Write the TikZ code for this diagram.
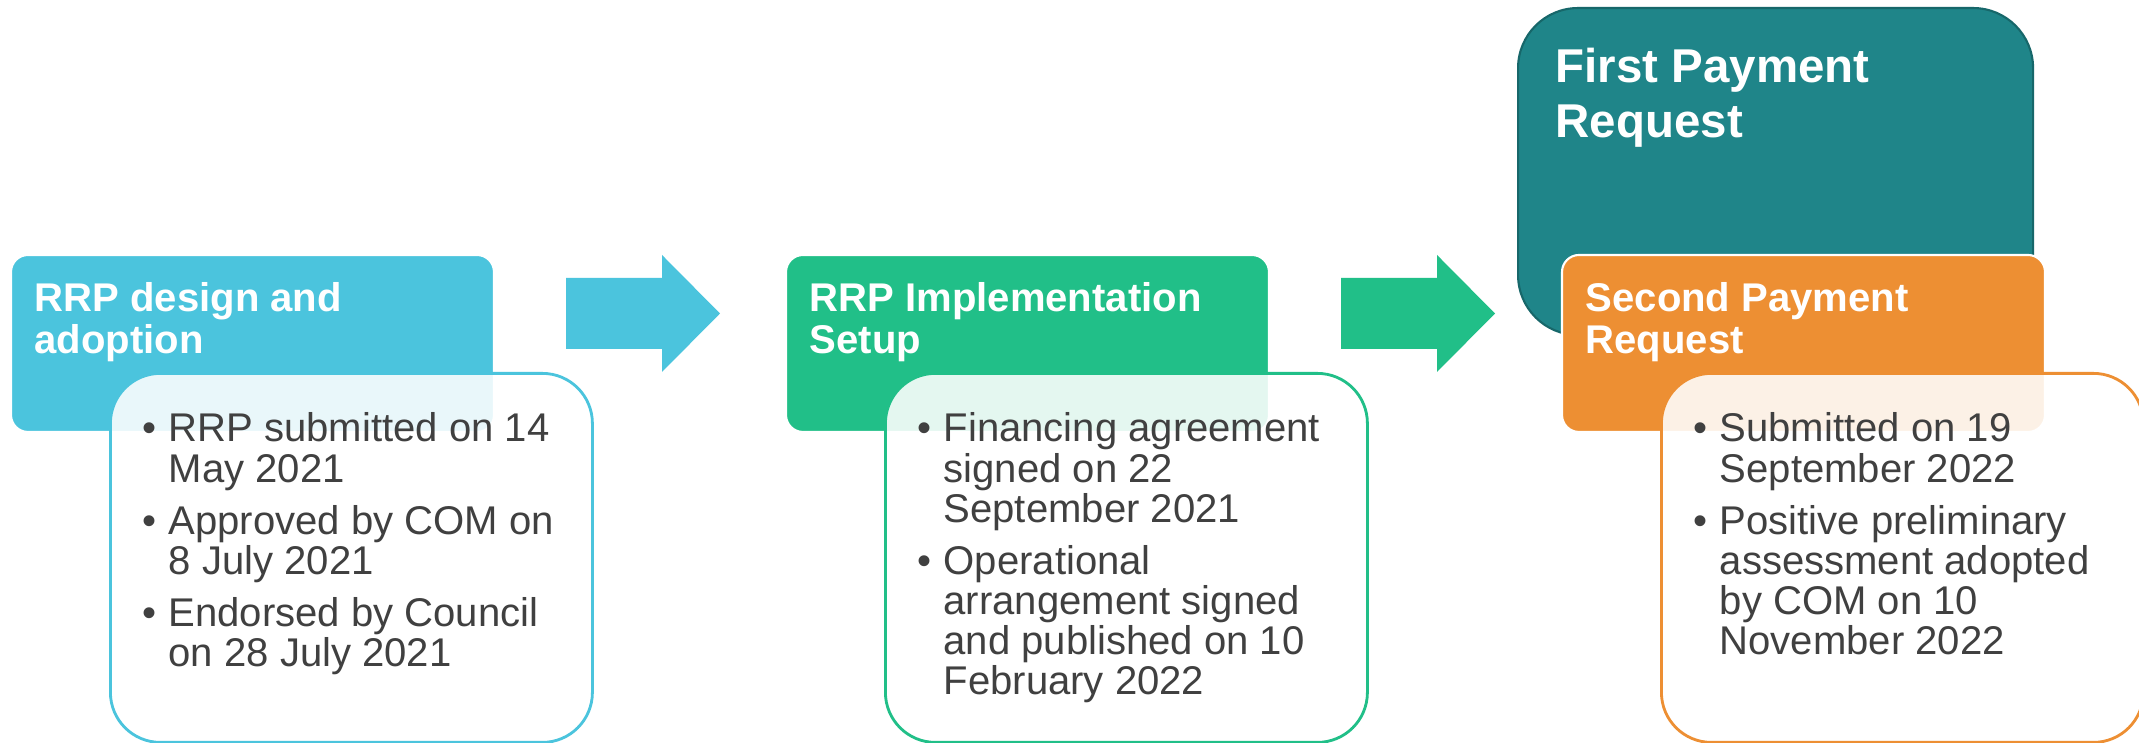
\documentclass[tikz,border=0pt]{standalone}
\usepackage{fontspec}
\setmainfont{Liberation Sans}
\usepackage{tikz}
\usepackage{xcolor}
\usetikzlibrary{positioning}
\definecolor{rrpblue}{HTML}{4BC4DD}
\definecolor{rrpgreen}{HTML}{21BF88}
\definecolor{rrpteal}{HTML}{1F8589}
\definecolor{tealedge}{HTML}{17676A}
\definecolor{rrporange}{HTML}{ED8F33}
\definecolor{bodygrey}{HTML}{404040}
\newcommand{\bpt}[1]{\par\hangindent=0.26cm\hangafter=1\noindent\makebox[0.26cm][l]{\textbullet}#1}
\tikzset{
    head-box/.style = {draw=white, line width=0.6pt, rectangle, rounded corners=0.17cm, minimum width=4.83cm, minimum height=1.77cm, inner sep=0pt, outer sep=0pt, anchor=south west},
    body-box/.style = {draw=#1, fill=white, fill opacity=0.88, line width=0.8pt, rectangle, rounded corners=0.5cm, minimum width=4.82cm, minimum height=3.69cm, inner sep=0pt, anchor=north west},
    head-text/.style = {text=white, font=\fontsize{11.4pt}{11.9pt}\selectfont\bfseries, inner sep=0pt, anchor=base west},
    body-text/.style = {text=bodygrey, font=\fontsize{11.4pt}{11.4pt}\selectfont, inner sep=0pt, anchor=base west},
}

\begin{document}
\begin{tikzpicture}
\useasboundingbox (0,0) rectangle (21.39,7.43);
\fill[white] (0,0) rectangle (21.39,7.43);
% first payment request
\node [draw=tealedge, fill=rrpteal, line width=0.6pt, rectangle, rounded corners=0.6cm, minimum width=5.15cm, minimum height=3.27cm, inner sep=0pt, anchor=north west] (p1) at (15.17,7.36) {};
\node [text=white, font=\fontsize{13.5pt}{15.6pt}\selectfont\bfseries, inner sep=0pt, anchor=base west] (p1t) at ([xshift=0.38cm,yshift=-0.76cm]p1.north west) {\begin{minipage}[t]{4.5cm}First Payment\\Request\end{minipage}};
% headers
\node [head-box, fill=rrpblue] (h1) at (0.11,3.11) {};
\node [head-box, fill=rrpgreen, right=2.92cm of h1.south east, anchor=south west] (h2) {};
\node [head-box, fill=rrporange, right=2.93cm of h2.south east, anchor=south west] (h3) {};
\node [head-text] (h1t) at ([xshift=0.23cm,yshift=-0.57cm]h1.north west) {\begin{minipage}[t]{4.5cm}RRP design and\\adoption\end{minipage}};
\node [head-text] (h2t) at ([xshift=0.23cm,yshift=-0.57cm]h2.north west) {\begin{minipage}[t]{4.5cm}RRP Implementation\\Setup\end{minipage}};
\node [head-text] (h3t) at ([xshift=0.23cm,yshift=-0.57cm]h3.north west) {\begin{minipage}[t]{4.5cm}Second Payment\\Request\end{minipage}};
% arrows
\foreach \ax/\ac in {5.66/rrpblue, 13.41/rrpgreen}
    \fill[\ac] (\ax,4.65) -- ++(0.96,0) -- ++(0,0.23) -- ++(0.58,-0.585) -- ++(-0.58,-0.585) -- ++(0,0.23) -- ++(-0.96,0) -- cycle;
% bodies
\node [body-box=rrpblue] (b1) at ([xshift=0.98cm,yshift=-1.17cm]h1.north west) {};
\node [body-box=rrpgreen] (b2) at ([xshift=0.98cm,yshift=-1.17cm]h2.north west) {};
\node [body-box=rrporange] (b3) at ([xshift=0.98cm,yshift=-1.17cm]h3.north west) {};
\node [body-text] (b1t) at ([xshift=0.33cm,yshift=-0.70cm]b1.north west) {\begin{minipage}[t]{4.3cm}\raggedright\setlength{\parskip}{3.4pt}
    \bpt{RRP submitted on 14 May 2021}
    \bpt{Approved by COM on 8 July 2021}
    \bpt{Endorsed by Council on 28 July 2021}
\end{minipage}};
\node [body-text] (b2t) at ([xshift=0.33cm,yshift=-0.70cm]b2.north west) {\begin{minipage}[t]{4.3cm}\raggedright\setlength{\parskip}{3.4pt}
    \bpt{Financing agreement signed on 22 September 2021}
    \bpt{Operational arrangement signed and published on 10 February 2022}
\end{minipage}};
\node [body-text] (b3t) at ([xshift=0.33cm,yshift=-0.70cm]b3.north west) {\begin{minipage}[t]{4.3cm}\raggedright\setlength{\parskip}{3.4pt}
    \bpt{Submitted on 19 September 2022}
    \bpt{Positive preliminary assessment adopted by COM on 10 November 2022}
\end{minipage}};
\end{tikzpicture}
\end{document}
